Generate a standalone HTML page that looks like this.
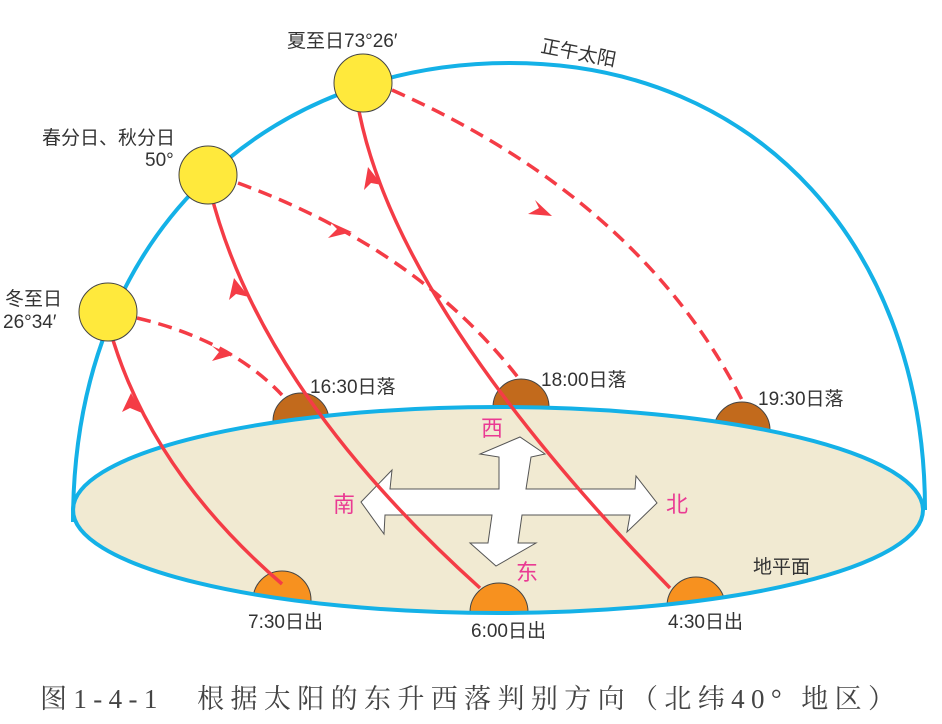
<!DOCTYPE html>
<html><head><meta charset="utf-8"><style>
html,body{margin:0;padding:0;background:#fff}
svg{display:block}
text{font-family:"Liberation Sans","Noto Sans CJK SC",sans-serif}
</style></head><body>
<svg width="942" height="724" viewBox="0 0 942 724" xmlns="http://www.w3.org/2000/svg">
<defs>
<clipPath id="ec"><ellipse cx="498" cy="510" rx="425" ry="103"/></clipPath>
</defs>
<circle cx="301" cy="421" r="28" fill="#c26a1c" stroke="#444" stroke-width="1"/>
<circle cx="521" cy="407" r="28" fill="#c26a1c" stroke="#444" stroke-width="1"/>
<circle cx="742" cy="430" r="28" fill="#c26a1c" stroke="#444" stroke-width="1"/>
<ellipse cx="498" cy="510" rx="425" ry="103" fill="#f1ead2"/>
<g clip-path="url(#ec)">
<circle cx="282" cy="600" r="29" fill="#f7911f" stroke="#444" stroke-width="1"/>
<circle cx="499" cy="612" r="29" fill="#f7911f" stroke="#444" stroke-width="1"/>
<circle cx="696" cy="606" r="29" fill="#f7911f" stroke="#444" stroke-width="1"/>
</g>
<path d="M73,522 C73,230 270,63 510,63 C760,63 925,250 925,510" fill="none" stroke="#14b1e7" stroke-width="4"/>
<ellipse cx="498" cy="510" rx="425" ry="103" fill="none" stroke="#14b1e7" stroke-width="4"/>
<polygon points="361,502 392,470 390,489 499,489 499,457 480,454 520,437 545,454 531,457 526,489 635,489 636,476 657,503 627,532 630,515 522,515 518,543 536,543 496,566 470,543 488,543 492,515 385,515 384,534" fill="#fff" stroke="#555" stroke-width="1"/>
<g fill="none" stroke="#f43c46" stroke-width="3.5">
<path d="M282,584 Q150,470 110,330"/>
<path d="M137,318 Q230,340 282,395" stroke-dasharray="14,8"/>
<path d="M480,588 Q260,390 210,190"/>
<path d="M238,183 Q420,250 520,380" stroke-dasharray="14,8"/>
<path d="M670,588 Q390,300 357,100"/>
<path d="M392,90 Q640,200 742,400" stroke-dasharray="14,8"/>
</g>
<g fill="#f43c46">
<polygon points="131,393 122,412 130,408 142,413"/>
<polygon points="234,278 229,300 236,294 249,297"/>
<polygon points="368,167 364,190 371,183 382,185"/>
<polygon points="233,355 212,346 219,352 212,361"/>
<polygon points="352,232 330,222 337,229 328,238"/>
<polygon points="552,216 535,200 539,208 528,214"/>
</g>
<g fill="#ffe93c" stroke="#444" stroke-width="1">
<circle cx="363" cy="83" r="29"/>
<circle cx="208" cy="175" r="29"/>
<circle cx="108" cy="312" r="29"/>
</g>
<g fill="#333" font-size="19">
<text x="287" y="47">夏至日73°26′</text>
<text x="540" y="52" transform="rotate(11 540 52)">正午太阳</text>
<text x="42" y="144">春分日、秋分日</text>
<text x="145" y="166">50°</text>
<text x="5" y="305">冬至日</text>
<text x="3" y="328">26°34′</text>
<text x="310" y="393">16:30日落</text>
<text x="541" y="386">18:00日落</text>
<text x="758" y="405">19:30日落</text>
<text x="248" y="628">7:30日出</text>
<text x="471" y="637">6:00日出</text>
<text x="668" y="628">4:30日出</text>
<text x="753" y="573">地平面</text>
</g>
<g fill="#ea3a93" font-size="22">
<text x="481" y="436">西</text>
<text x="333" y="512">南</text>
<text x="666" y="512">北</text>
<text x="516" y="580">东</text>
</g>
<text x="40" y="708" font-size="27" fill="#444" textLength="855" style="font-family:'Liberation Serif','Noto Serif CJK SC',serif">图1-4-1　根据太阳的东升西落判别方向（北纬40° 地区）</text>
</svg>
</body></html>
